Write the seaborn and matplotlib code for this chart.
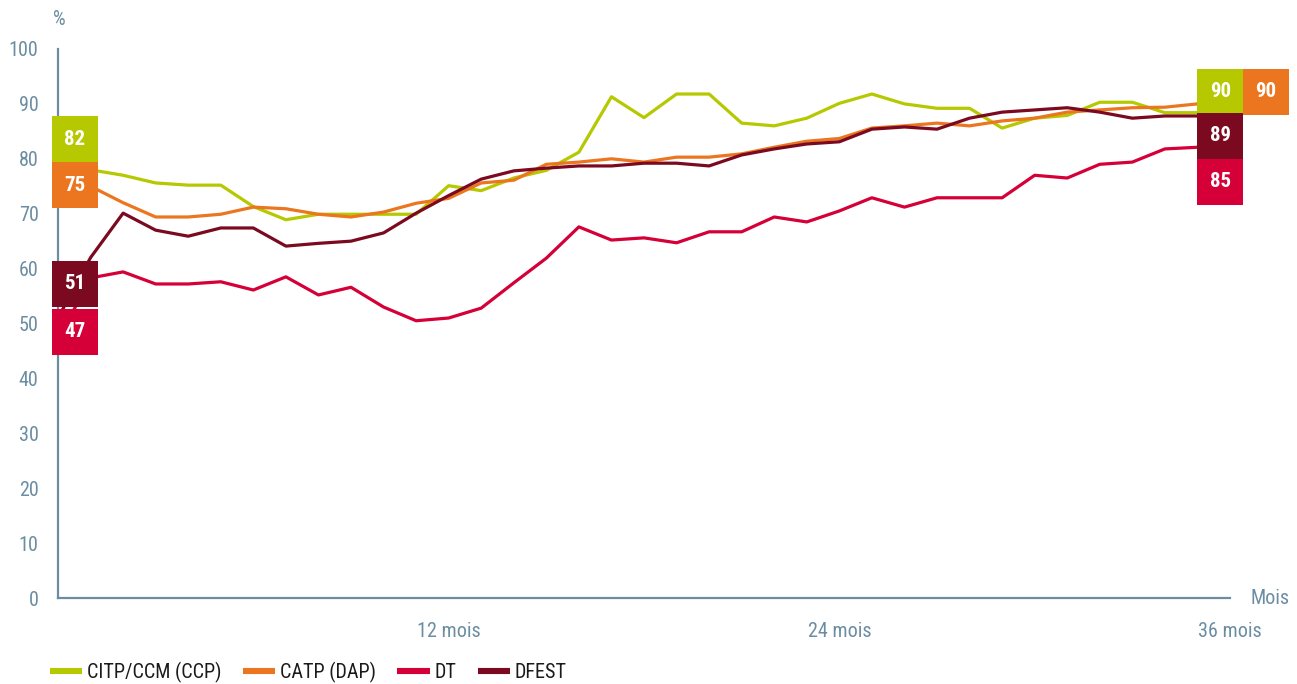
import numpy as np
import pandas as pd
import matplotlib
matplotlib.use('Agg')
import matplotlib.pyplot as plt
import seaborn as sns
from matplotlib.patches import Rectangle

# data (taux en %, mois 0..36)
months = list(range(37))
citp = [82, 78, 77, 75.6, 75.2, 75.2, 71.3, 68.9, 69.9, 69.9, 69.9, 69.9, 75.1,
        74.2, 76.5, 77.9, 81.2, 91.3, 87.5, 91.8, 91.8, 86.5, 86.0, 87.4, 90.1,
        91.8, 90.0, 89.2, 89.2, 85.6, 87.4, 87.9, 90.3, 90.3, 88.4, 88.4, 90]
catp = [75, 75, 72, 69.4, 69.4, 69.9, 71.2, 70.9, 69.9, 69.4, 70.3, 71.9, 72.8,
        75.6, 76.1, 79.0, 79.4, 80.0, 79.4, 80.3, 80.3, 80.9, 82.1, 83.2, 83.7,
        85.6, 86.0, 86.5, 86.0, 86.9, 87.4, 88.5, 88.9, 89.3, 89.4, 90.0, 90]
dt = [47, 58.3, 59.4, 57.2, 57.2, 57.6, 56.1, 58.5, 55.2, 56.6, 53.0, 50.5, 51.0,
      52.8, 57.4, 61.9, 67.6, 65.2, 65.6, 64.7, 66.7, 66.7, 69.4, 68.5, 70.5,
      72.9, 71.2, 72.9, 72.9, 72.9, 77.0, 76.5, 79.0, 79.4, 81.8, 82.1, 85]
dfest = [51, 62, 70.1, 67.0, 65.9, 67.4, 67.4, 64.1, 64.6, 65.0, 66.5, 70.1, 73.3,
         76.3, 77.8, 78.3, 78.7, 78.7, 79.2, 79.2, 78.7, 80.7, 81.8, 82.7, 83.1,
         85.4, 85.8, 85.4, 87.4, 88.5, 88.9, 89.3, 88.5, 87.4, 87.8, 87.8, 89]

series = ['CITP/CCM (CCP)', 'CATP (DAP)', 'DT', 'DFEST']
colors = ['#b5c800', '#ec751f', '#d40037', '#7b0a20']
start_labels = [82, 75, 47, 51]
end_labels = [90, 90, 85, 89]

# box layout (label centres, to keep the boxes from overlapping)
start_box_y = [83.6, 75.2, 48.5, 57.2]
end_box_pos = [(35.7, 92.2), (37.1, 92.2), (35.7, 75.8), (35.7, 84.2)]

df = pd.DataFrame({'Mois': months * 4,
                   'Taux': citp + catp + dt + dfest,
                   'Série': np.repeat(series, len(months))})

axis_col = '#6b8da2'
sns.set_style('white')
plt.rcParams['font.family'] = ['Roboto Condensed', 'DejaVu Sans']

fig = plt.figure(figsize=(12.97, 6.84), dpi=100)
ax = fig.add_axes([58 / 1297, 1 - 598 / 684, (1230 - 58) / 1297, (598 - 49) / 684])

sns.lineplot(data=df, x='Mois', y='Taux', hue='Série', palette=dict(zip(series, colors)),
             linewidth=2.3, ax=ax, legend=True, clip_on=False)

ax.set_xlim(0, 36)
ax.set_ylim(0, 100)
for s in ['top', 'right']:
    ax.spines[s].set_visible(False)
for s in ['left', 'bottom']:
    ax.spines[s].set_color(axis_col)
    ax.spines[s].set_linewidth(1.6)

ax.set_yticks(range(0, 101, 10))
ax.set_xticks(months)
ax.set_xticklabels([f'{m} mois' if m in (12, 24, 36) else '' for m in months])
ax.tick_params(axis='y', colors=axis_col, length=5, width=1.4, pad=9, labelsize=14.5)
ax.tick_params(axis='x', colors=axis_col, length=5, width=1.4, pad=12, labelsize=14.5)
ax.set_xlabel('')
ax.set_ylabel('')

ax.annotate('%', xy=(0, 1), xycoords='axes fraction', xytext=(1, 21),
            textcoords='offset points', ha='center', va='center', fontsize=14.5, color=axis_col)
ax.annotate('Mois', xy=(1, 0), xycoords='axes fraction', xytext=(15, 0),
            textcoords='offset points', ha='left', va='center', fontsize=14.5, color=axis_col)

# value boxes at start and end
bw, bh = 46 / 32.55, 46 / 5.49
for i in range(4):
    for (cx, cy), val in [((0.52, start_box_y[i]), start_labels[i]),
                          (end_box_pos[i], end_labels[i])]:
        ax.add_patch(Rectangle((cx - bw / 2, cy - bh / 2), bw, bh, facecolor=colors[i],
                               edgecolor='none', zorder=5, clip_on=False))
        ax.text(cx, cy, str(val), ha='center', va='center', color='white',
                fontsize=15, fontweight='bold', zorder=6, clip_on=False)

handles, labels = ax.get_legend_handles_labels()
ax.get_legend().remove()
for h in handles:
    h.set_linewidth(4.4)
    h.set_solid_capstyle('butt')
fig.legend(handles, labels, loc='center left', bbox_to_anchor=(50 / 1297, 0.0175), ncol=4,
           frameon=False, fontsize=14.5, handlelength=1.6, handletextpad=0.25,
           columnspacing=1.05, borderpad=0, borderaxespad=0, labelcolor='#1a1a1a')

fig.savefig('out.png', dpi=100)
